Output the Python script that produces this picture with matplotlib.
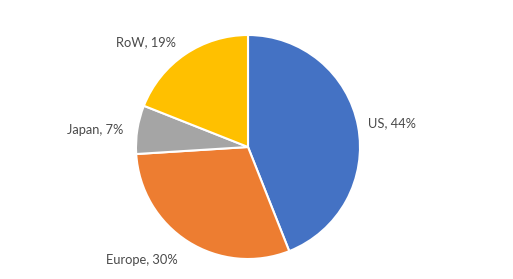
import matplotlib
matplotlib.use('Agg')
import matplotlib.pyplot as plt

regions = ['US', 'Europe', 'Japan', 'RoW']
shares = [44, 30, 7, 19]
colors = ['#4472C4', '#ED7D31', '#A5A5A5', '#FFC000']

# label centres, in units of pie radius
label_pos = [(1.29, 0.21), (-0.95, -1.01), (-1.36, 0.15), (-0.91, 0.94)]

fig = plt.figure(figsize=(5.13, 2.79), dpi=100)
# pie centre at (248, 147) px, radius 112 px
ax = fig.add_axes([(248 - 112) / 513, (279 - 147 - 112) / 279, 224 / 513, 224 / 279])
ax.pie(shares, colors=colors, startangle=90, counterclock=False,
       wedgeprops=dict(edgecolor='white', linewidth=1.5))
ax.set_xlim(-1, 1)
ax.set_ylim(-1, 1)
ax.set_aspect('auto')
ax.axis('off')

for name, val, (x, y) in zip(regions, shares, label_pos):
    ax.text(x, y, f'{name}, {val}%', ha='center', va='center',
            fontsize=9.3, color='#4a4a4a', family=['Lato', 'DejaVu Sans'])

fig.savefig('out.png', dpi=100)
